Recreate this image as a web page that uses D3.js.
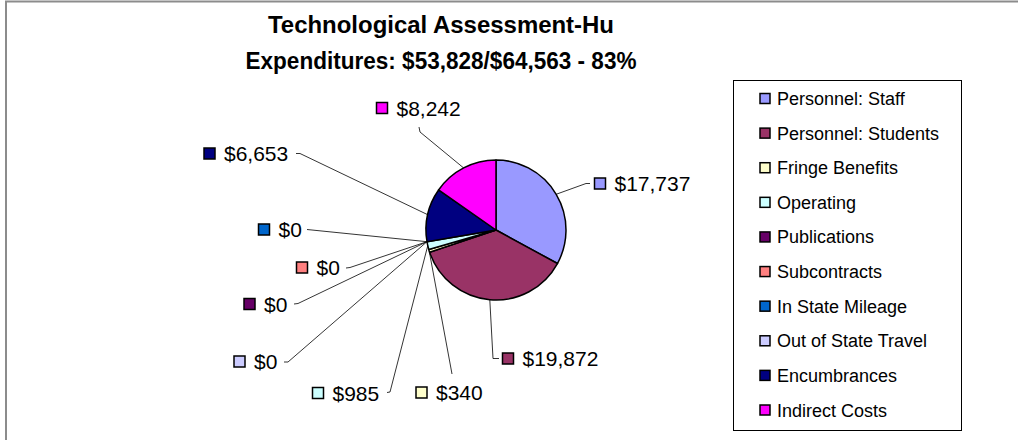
<!DOCTYPE html>
<html>
<head>
<meta charset="utf-8">
<script src="https://cdn.jsdelivr.net/npm/d3@7"></script>
<style>
  html, body { margin: 0; padding: 0; background: #fff; }
  svg { display: block; font-family: "Liberation Sans", Arial, sans-serif; }
</style>
</head>
<body>
<svg id="chart" width="1018" height="440"></svg>
<script>
// Expenditure categories and amounts (USD)
const categories = [
  "Personnel: Staff", "Personnel: Students", "Fringe Benefits", "Operating",
  "Publications", "Subcontracts", "In State Mileage", "Out of State Travel",
  "Encumbrances", "Indirect Costs"
];
const amounts = [17737, 19872, 340, 985, 0, 0, 0, 0, 6653, 8242];
const sliceColors = [
  "#9999FF", "#993366", "#FFFFCC", "#CCFFFF", "#660066",
  "#FF8080", "#0066CC", "#CCCCFF", "#000080", "#FF00FF"
];
const titleLines = [
  "Technological Assessment-Hu",
  "Expenditures: $53,828/$64,563 - 83%"
];

// Where each data label sits, and the bend of its leader line
const labelPlacement = [
  { marker: [600, 183.5], elbow: [586, 183.5], end: [590, 183.5] },
  { marker: [508, 358.5], elbow: [493, 358.5], end: [499, 358.5] },
  { marker: [421.5, 392.5], elbow: [452, 374], end: [452, 374] },
  { marker: [318, 393], elbow: [390, 392], end: [387, 392.5] },
  { marker: [249.5, 304], elbow: [298, 303.5], end: [294, 304] },
  { marker: [302, 267.5], elbow: [350, 267.5], end: [346, 268] },
  { marker: [264, 229.5], elbow: [307, 229.5], end: [307, 229.5] },
  { marker: [239.5, 361.5], elbow: [288, 362], end: [284, 362] },
  { marker: [209.5, 153.5], elbow: [300, 153.5], end: [296, 153.5] },
  { marker: [382, 108], elbow: [420, 132], end: [419, 127] }
];

const svg = d3.select("#chart");
const fmt = v => "$" + d3.format(",")(v);

// chart area frame
svg.append("rect")
  .attr("x", 6).attr("y", 1.5)
  .attr("width", 1030).attr("height", 460)
  .attr("fill", "#fff")
  .attr("stroke", "#8c8c8c").attr("stroke-width", 2);

// title
const titleWidths = [346, 391];
svg.append("g").selectAll("text")
  .data(titleLines)
  .join("text")
  .attr("x", 441)
  .attr("y", (d, i) => 33 + i * 36)
  .attr("text-anchor", "middle")
  .attr("font-weight", "bold")
  .attr("font-size", 23.5)
  .attr("textLength", (d, i) => titleWidths[i])
  .attr("lengthAdjust", "spacingAndGlyphs")
  .attr("fill", "#000")
  .text(d => d);

// pie
const cx = 496, cy = 230, radius = 70;
const data = categories.map((c, i) => ({ name: c, value: amounts[i], color: sliceColors[i], place: labelPlacement[i] }));
const pie = d3.pie().sort(null).value(d => d.value).startAngle(0).endAngle(2 * Math.PI);
const arcs = pie(data);
const arc = d3.arc().innerRadius(0).outerRadius(radius);
const rim = d3.arc().innerRadius(radius).outerRadius(radius);

const pieG = svg.append("g").attr("transform", `translate(${cx},${cy})`);
pieG.selectAll("path")
  .data(arcs.filter(d => d.data.value > 0))
  .join("path")
  .attr("d", arc)
  .attr("fill", d => d.data.color)
  .attr("stroke", "#000")
  .attr("stroke-width", 1.5)
  .attr("stroke-linejoin", "round");

// leader lines
svg.append("g").selectAll("path")
  .data(arcs)
  .join("path")
  .attr("d", d => {
    const [x0, y0] = rim.centroid(d);
    const p = d.data.place;
    return d3.line()([[cx + x0, cy + y0], p.elbow, p.end]);
  })
  .attr("fill", "none")
  .attr("stroke", "#000")
  .attr("stroke-width", 0.8);

// data labels
const lab = svg.append("g").selectAll("g")
  .data(arcs)
  .join("g")
  .attr("transform", d => `translate(${d.data.place.marker[0]},${d.data.place.marker[1]})`);
lab.append("rect")
  .attr("x", -5.5).attr("y", -5.5)
  .attr("width", 11).attr("height", 11)
  .attr("fill", d => d.data.color)
  .attr("stroke", "#000").attr("stroke-width", 1.5);
lab.append("text")
  .attr("x", 14.5)
  .attr("y", 7.5)
  .attr("font-size", 21)
  .attr("fill", "#000")
  .text(d => fmt(d.data.value));

// legend
const legend = svg.append("g");
legend.append("rect")
  .attr("x", 733.5).attr("y", 80.5)
  .attr("width", 228).attr("height", 350)
  .attr("fill", "#fff")
  .attr("stroke", "#000").attr("stroke-width", 1);
const rowY = d3.scalePoint().domain(categories).range([98.5, 410]);
const rows = legend.selectAll("g.row")
  .data(data)
  .join("g")
  .attr("class", "row")
  .attr("transform", d => `translate(765,${rowY(d.name)})`);
rows.append("rect")
  .attr("x", -5).attr("y", -5)
  .attr("width", 10).attr("height", 10)
  .attr("fill", d => d.color)
  .attr("stroke", "#000").attr("stroke-width", 1.5);
rows.append("text")
  .attr("x", 12)
  .attr("y", 6.5)
  .attr("font-size", 18)
  .attr("fill", "#000")
  .text(d => d.name);
</script>
</body>
</html>
